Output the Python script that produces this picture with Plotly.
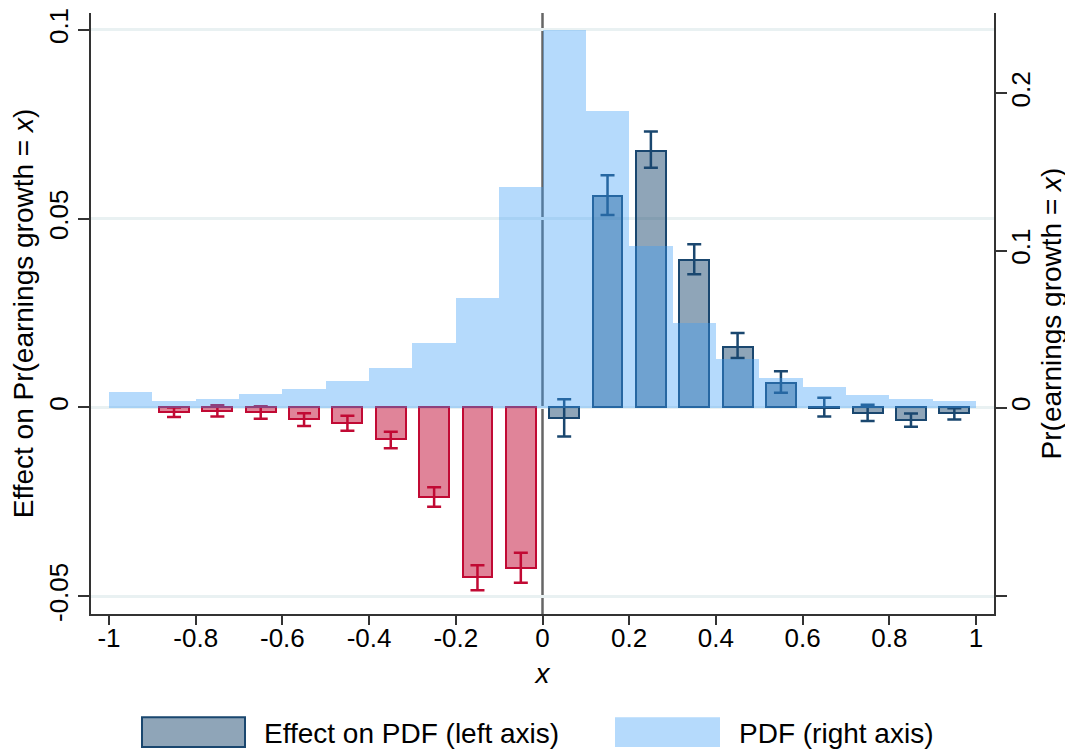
import plotly.graph_objects as go

# ---------------- data ----------------
bin_centers = [-0.95, -0.85, -0.75, -0.65, -0.55, -0.45, -0.35, -0.25, -0.15, -0.05,
               0.05, 0.15, 0.25, 0.35, 0.45, 0.55, 0.65, 0.75, 0.85, 0.95]
pdf_values = [0.0098, 0.0041, 0.0054, 0.0085, 0.0117, 0.0173, 0.0256, 0.0413, 0.0697, 0.1404,
              0.2404, 0.1890, 0.1030, 0.0540, 0.0312, 0.0192, 0.0129, 0.0079, 0.0054, 0.0041]

neg_centers = [-0.85, -0.75, -0.65, -0.55, -0.45, -0.35, -0.25, -0.15, -0.05]
neg_effect = [-0.0013, -0.0009, -0.0012, -0.0031, -0.0041, -0.0084, -0.0236, -0.0449, -0.0424]
neg_ci_lo = [-0.0025, -0.0024, -0.0030, -0.0049, -0.0062, -0.0108, -0.0263, -0.0484, -0.0464]
neg_ci_hi = [0.0000, 0.0006, 0.0003, -0.0015, -0.0022, -0.0064, -0.0211, -0.0418, -0.0385]

pos_centers = [0.05, 0.15, 0.25, 0.35, 0.45, 0.55, 0.65, 0.75, 0.85, 0.95]
pos_effect = [-0.0027, 0.0561, 0.0680, 0.0390, 0.0160, 0.0065, -0.0001, -0.0014, -0.0033, -0.0015]
pos_ci_lo = [-0.0077, 0.0510, 0.0635, 0.0353, 0.0131, 0.0039, -0.0024, -0.0036, -0.0051, -0.0032]
pos_ci_hi = [0.0022, 0.0615, 0.0731, 0.0432, 0.0197, 0.0096, 0.0026, 0.0007, -0.0016, -0.0002]

x_tickvals = [-1, -0.8, -0.6, -0.4, -0.2, 0, 0.2, 0.4, 0.6, 0.8, 1]
x_ticktext = ["-1", "-0.8", "-0.6", "-0.4", "-0.2", "0", "0.2", "0.4", "0.6", "0.8", "1"]
left_tickvals = [-0.05, 0, 0.05, 0.1]
left_ticktext = ["-0.05", "0", "0.05", "0.1"]
right_tickvals = [-0.12, 0, 0.1, 0.2]
right_ticktext = ["", "0", "0.1", "0.2"]

legend_labels = ["Effect on PDF (left axis)", "PDF (right axis)"]

# ---------------- styles ----------------
FONT = "Liberation Sans, Arial, sans-serif"
NAVY = "rgb(26,71,111)"
NAVY_FILL = "rgba(26,71,111,0.49)"
RED = "rgb(193,10,52)"
RED_FILL = "rgba(193,10,52,0.5)"
PDF_FILL = "rgba(58,156,247,0.375)"
AXIS = "#333333"
GRID = "#e9f1f2"

# page body has an 8px margin: figure is placed at (8, 8) in the window
OFF = 8
W, H = 1073 - OFF, 754 - OFF
# plot area in window pixels
L, R, T, B = 91 - OFF, 994 - OFF, 8 - OFF, 614 - OFF


def px_x(p):
    return (p - OFF - L) / (R - L)


def px_y(p):
    return (B - (p - OFF)) / (B - T)


def err(vals, lo, hi):
    return dict(type="data", symmetric=False,
                array=[h - v for v, h in zip(vals, hi)],
                arrayminus=[v - l for v, l in zip(vals, lo)])


fig = go.Figure()

e_neg = err(neg_effect, neg_ci_lo, neg_ci_hi)
e_neg.update(color=RED, thickness=2.5, width=7)
fig.add_trace(go.Bar(x=neg_centers, y=neg_effect, width=0.069, yaxis="y",
                     marker=dict(color=RED_FILL, line=dict(color=RED, width=2)),
                     error_y=e_neg, showlegend=False))

e_pos = err(pos_effect, pos_ci_lo, pos_ci_hi)
e_pos.update(color=NAVY, thickness=2.5, width=7)
fig.add_trace(go.Bar(x=pos_centers, y=pos_effect, width=0.069, yaxis="y",
                     marker=dict(color=NAVY_FILL, line=dict(color=NAVY, width=2)),
                     error_y=e_pos, showlegend=False))

fig.add_trace(go.Bar(x=bin_centers, y=pdf_values, width=0.1, yaxis="y2",
                     marker=dict(color=PDF_FILL, line=dict(width=0)),
                     showlegend=False))

shapes = [
    dict(type="line", xref="x", yref="paper", x0=0, x1=0, y0=0, y1=1,
         line=dict(color="#666666", width=2.5), layer="between"),
    # legend swatches
    dict(type="rect", xref="paper", yref="paper",
         x0=px_x(142), x1=px_x(245), y0=px_y(748), y1=px_y(718),
         fillcolor=NAVY_FILL, line=dict(color=NAVY, width=2)),
    dict(type="rect", xref="paper", yref="paper",
         x0=px_x(615), x1=px_x(720), y0=px_y(748), y1=px_y(718),
         fillcolor=PDF_FILL, line=dict(width=0)),
]

annotations = [
    dict(xref="paper", yref="paper", x=px_x(262), y=px_y(734), text=legend_labels[0],
         showarrow=False, xanchor="left", yanchor="middle",
         font=dict(family=FONT, size=28, color="black")),
    dict(xref="paper", yref="paper", x=px_x(737), y=px_y(734), text=legend_labels[1],
         showarrow=False, xanchor="left", yanchor="middle",
         font=dict(family=FONT, size=28, color="black")),
]

fig.update_layout(
    width=W, height=H,
    margin=dict(l=L, r=W - R, t=T, b=H - B, pad=0),
    paper_bgcolor="white", plot_bgcolor="white",
    barmode="overlay", bargap=0,
    font=dict(family=FONT, size=26, color="black"),
    shapes=shapes, annotations=annotations,
    xaxis=dict(range=[-1.0415, 1.0415], tickvals=x_tickvals, ticktext=x_ticktext,
               ticks="outside", ticklen=9, tickwidth=1.5, tickcolor=AXIS,
               ticklabelstandoff=-9, ticklabeloverflow="allow",
               showline=True, linecolor=AXIS, linewidth=1.5, mirror=False,
               showgrid=False, zeroline=False,
               tickfont=dict(family=FONT, size=26, color="black"),
               title=dict(text="<i>x</i>", standoff=11,
                          font=dict(family=FONT, size=28, color="black"))),
    yaxis=dict(range=[-0.0547, 0.10447], tickvals=left_tickvals, ticktext=left_ticktext,
               tickangle=-90, ticks="outside", ticklen=11, tickwidth=1.5, tickcolor=AXIS,
               ticklabeloverflow="allow",
               showline=True, linecolor=AXIS, linewidth=1.5,
               showgrid=True, gridcolor=GRID, gridwidth=2.5, zeroline=False,
               tickfont=dict(family=FONT, size=26, color="black"),
               title=dict(text="Effect on Pr(earnings growth = <i>x</i>)", standoff=8,
                          font=dict(family=FONT, size=28, color="black"))),
    yaxis2=dict(range=[-0.1312, 0.2511], tickvals=right_tickvals, ticktext=right_ticktext,
                overlaying="y", side="right", anchor="x",
                tickangle=-90, ticks="outside", ticklen=11, tickwidth=1.5, tickcolor=AXIS,
                ticklabelstandoff=-8, ticklabeloverflow="allow",
                showline=True, linecolor=AXIS, linewidth=1.5,
                showgrid=False, zeroline=False,
                tickfont=dict(family=FONT, size=26, color="black"),
                title=dict(text="Pr(earnings growth = <i>x</i>)", standoff=6,
                           font=dict(family=FONT, size=28, color="black"))),
)

fig.write_html("out.html")
